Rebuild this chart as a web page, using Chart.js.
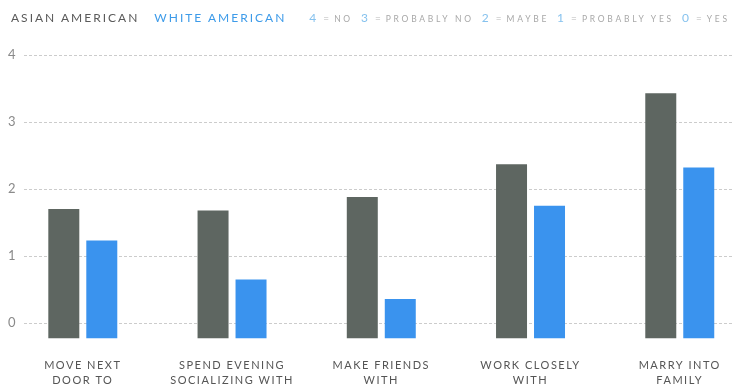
<!DOCTYPE html>
<html><head><meta charset="utf-8">
<script src="https://cdn.jsdelivr.net/npm/chart.js@4/dist/chart.umd.min.js"></script>
<style>
html,body{margin:0;padding:0;background:#fff;overflow:hidden;width:732px;height:384px}
#wrap{position:relative;width:732px;height:392px}
#c{position:absolute;left:0;top:0}
#legend{position:absolute;left:11px;top:6px;font-family:Lato,"Open Sans",sans-serif;white-space:nowrap;line-height:20px}
.ser{font-size:12px;letter-spacing:2px;margin-right:15px}
.kn{font-size:12px;color:#86c2ee;margin-left:8px}
.ke{font-size:10px;color:#b8b8b8;margin:0 5px 0 7px}
.kt{font-size:8.5px;color:#a8a8a8;letter-spacing:2.75px}
</style></head>
<body><div id="wrap"><canvas id="c" width="732" height="392"></canvas><div id="legend"></div></div>
<script>
const categories = [["MOVE NEXT","DOOR TO"],["SPEND EVENING","SOCIALIZING WITH"],["MAKE FRIENDS","WITH"],["WORK CLOSELY","WITH"],["MARRY INTO","FAMILY"]];
const seriesNames = ["ASIAN AMERICAN","WHITE AMERICAN"];
const asianAmerican = [1.70, 1.68, 1.88, 2.37, 3.43];
const whiteAmerican = [1.23, 0.65, 0.36, 1.75, 2.32];
const yTicks = [0, 1, 2, 3, 4];
const keyValues = [4, 3, 2, 1, 0];
const keyLabels = ["NO", "PROBABLY NO", "MAYBE", "PROBABLY YES", "YES"];

const seriesColors = ["#5e6661", "#3a93ee"];
const seriesText = ["#5a5a5a", "#3d9be9"];

// legend (real text)
const lg = document.getElementById('legend');
seriesNames.forEach((n, i) => {
  const s = document.createElement('span');
  s.className = 'ser'; s.style.color = seriesText[i]; s.textContent = n;
  lg.appendChild(s);
});
keyValues.forEach((v, i) => {
  const a = document.createElement('span'); a.className = 'kn'; a.textContent = v; lg.appendChild(a);
  const b = document.createElement('span'); b.className = 'ke'; b.textContent = '='; lg.appendChild(b);
  const c = document.createElement('span'); c.className = 'kt'; c.textContent = keyLabels[i]; lg.appendChild(c);
});

const BASE = -0.231;
const spacingPlugin = { id: 'spacing', beforeDraw(chart) { chart.ctx.letterSpacing = '1.5px'; } };

new Chart(document.getElementById('c'), {
  type: 'bar',
  data: {
    datasets: [
      { label: seriesNames[0], data: asianAmerican.map((v, i) => ({ x: i, y: v })), backgroundColor: seriesColors[0], base: BASE },
      { label: seriesNames[1], data: whiteAmerican.map((v, i) => ({ x: i, y: v })), backgroundColor: seriesColors[1], base: BASE }
    ]
  },
  options: {
    responsive: false, animation: false, devicePixelRatio: 1,
    layout: { padding: { top: 55, left: 0, right: 0, bottom: 0 } },
    plugins: { legend: { display: false }, tooltip: { enabled: false } },
    datasets: { bar: { categoryPercentage: 0.509, barPercentage: 0.816 } },
    scales: {
      x: {
        type: 'linear', min: -0.394, max: 4.35, offset: false,
        grid: { display: false, offset: false }, border: { display: false },
        afterBuildTicks: s => { s.ticks = categories.map((c, i) => ({ value: i })); },
        afterFit: s => { s.height = 53.5; },
        ticks: { autoSkip: false, maxRotation: 0, padding: 11, color: '#555',
          font: { family: 'Lato', size: 11, lineHeight: '15px' },
          callback: v => categories[Math.round(v)] }
      },
      y: {
        min: BASE, max: 4,
        afterBuildTicks: s => { s.ticks = yTicks.map(v => ({ value: v })); },
        afterFit: s => { s.width = 24; },
        grid: { color: '#cccccc', lineWidth: 1, drawTicks: false },
        border: { display: false, dash: [3, 2] },
        ticks: { padding: 7, color: '#8a8a8a', font: { family: 'Lato', size: 13 } }
      }
    }
  },
  plugins: [spacingPlugin]
});
</script></body></html>
